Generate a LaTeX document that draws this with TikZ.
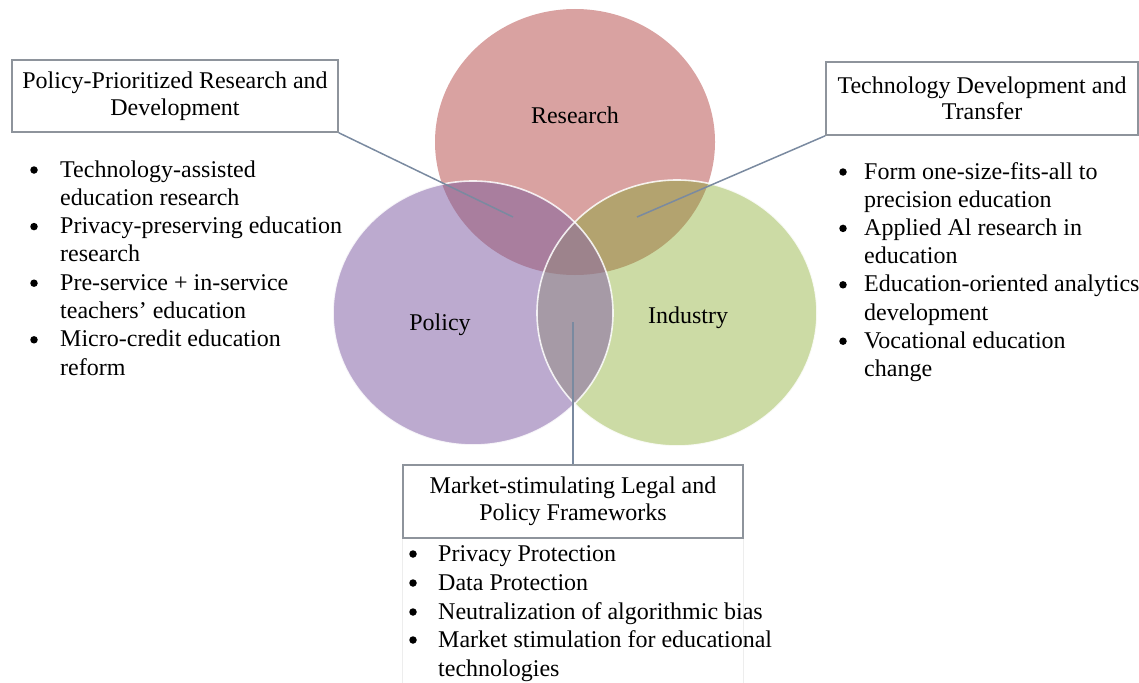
\documentclass[tikz,border=0pt]{standalone}
\usepackage{fontspec}
\setmainfont{Liberation Serif}
\definecolor{resC}{HTML}{D9A2A1}
\definecolor{polC}{HTML}{BCAACF}
\definecolor{indC}{HTML}{CCDBA5}
\definecolor{rpC}{HTML}{A97E9E}
\definecolor{riC}{HTML}{B3A36F}
\definecolor{piC}{HTML}{A69AA6}
\definecolor{rpiC}{HTML}{9D838C}
\definecolor{boxC}{HTML}{8E949C}
\definecolor{linkC}{HTML}{7A8AA0}
\begin{document}
\begin{tikzpicture}[x=1pt,y=-1pt,
  txt/.style={font=\fontsize{24}{26}\selectfont, inner sep=0pt},
  lbl/.style={txt, anchor=base west},
  bul/.style={circle, fill=black, inner sep=0pt, minimum size=7.5pt},
  tbox/.style={draw=boxC, line width=1.6pt, fill=white, align=center, inner sep=0pt,
     font=\fontsize{24}{26.5}\selectfont},
  link/.style={draw=linkC, line width=1.5pt}]
\useasboundingbox (0,0) rectangle (1139,682);

% base circles
\fill[resC] (575,142) ellipse [x radius=140pt, y radius=133pt];
\fill[polC] (473,313) ellipse [x radius=140pt, y radius=132pt];
\fill[indC] (677,313) ellipse [x radius=140pt, y radius=133pt];
% overlaps
\begin{scope}
  \clip (575,142) ellipse [x radius=140pt, y radius=133pt];
  \fill[rpC] (473,313) ellipse [x radius=140pt, y radius=132pt];
  \fill[riC] (677,313) ellipse [x radius=140pt, y radius=133pt];
\end{scope}
\begin{scope}
  \clip (473,313) ellipse [x radius=140pt, y radius=132pt];
  \fill[piC] (677,313) ellipse [x radius=140pt, y radius=133pt];
\end{scope}
\begin{scope}
  \clip (575,142) ellipse [x radius=140pt, y radius=133pt];
  \clip (473,313) ellipse [x radius=140pt, y radius=132pt];
  \fill[rpiC] (677,313) ellipse [x radius=140pt, y radius=133pt];
\end{scope}
% white outlines
\draw[white, line width=1.6pt, opacity=0.85] (473,313) ellipse [x radius=140pt, y radius=132pt];
\draw[white, line width=1.6pt, opacity=0.85] (677,313) ellipse [x radius=140pt, y radius=133pt];

% circle labels
\node[txt] (research) at (575,115) {Research};
\node[txt] (policy) at (440,325) {Policy};
\node[txt] (industry) at (688,318) {Industry};

% boxes
\node[tbox, minimum width=326pt, minimum height=72pt] (box1) at (175,96)
  {Policy-Prioritized Research and\\Development};
\node[tbox, minimum width=312pt, minimum height=73pt] (box2) at (982,98.5)
  {Technology Development and\\Transfer};
\node[tbox, minimum width=340pt, minimum height=73pt] (box3) at (573,501.5)
  {Market-stimulating Legal and\\Policy Frameworks};

% connector ends
\coordinate (rp) at (513,217);
\coordinate (ri) at (637,217);
\coordinate (pi) at (573,322);
\draw[link] (box1.south east) -- (rp);
\draw[link] (box2.south west) -- (ri);
\draw[link] (box3.north) -- (pi);

% faint frame under bottom box
\draw[black!7, line width=1pt] (box3.south west) -- ++(0,144);
\draw[black!7, line width=1pt] (box3.south east) -- ++(0,144);

% left list
\node[bul] (lb1) at (34,170) {};
\node[lbl] (l1a) at (60,177) {Technology-assisted};
\node[lbl] (l1b) at (60,205.3) {education research};
\node[bul] (lb2) at (34,226.6) {};
\node[lbl] (l2a) at (60,233.6) {Privacy-preserving education};
\node[lbl] (l2b) at (60,261.9) {research};
\node[bul] (lb3) at (34,283.2) {};
\node[lbl] (l3a) at (60,290.2) {Pre-service + in-service};
\node[lbl] (l3b) at (60,318.5) {teachers’ education};
\node[bul] (lb4) at (34,339.8) {};
\node[lbl] (l4a) at (60,346.8) {Micro-credit education};
\node[lbl] (l4b) at (60,375.1) {reform};

% right list
\node[bul] (rb1) at (843,172) {};
\node[lbl] (r1a) at (864,179) {Form one-size-fits-all to};
\node[lbl] (r1b) at (864,207.2) {precision education};
\node[bul] (rb2) at (843,228.4) {};
\node[lbl] (r2a) at (864,235.4) {Applied Al research in};
\node[lbl] (r2b) at (864,263.6) {education};
\node[bul] (rb3) at (843,284.8) {};
\node[lbl] (r3a) at (864,291.8) {Education-oriented analytics};
\node[lbl] (r3b) at (864,320) {development};
\node[bul] (rb4) at (843,341.2) {};
\node[lbl] (r4a) at (864,348.2) {Vocational education};
\node[lbl] (r4b) at (864,376.4) {change};

% bottom list
\node[bul] (bb1) at (413,554) {};
\node[lbl] (b1) at (438,561) {Privacy Protection};
\node[bul] (bb2) at (413,583) {};
\node[lbl] (b2) at (438,590) {Data Protection};
\node[bul] (bb3) at (413,612) {};
\node[lbl] (b3) at (438,619) {Neutralization of algorithmic bias};
\node[bul] (bb4) at (413,640) {};
\node[lbl] (b4a) at (438,647) {Market stimulation for educational};
\node[lbl] (b4b) at (438,676) {technologies};
\end{tikzpicture}
\end{document}
